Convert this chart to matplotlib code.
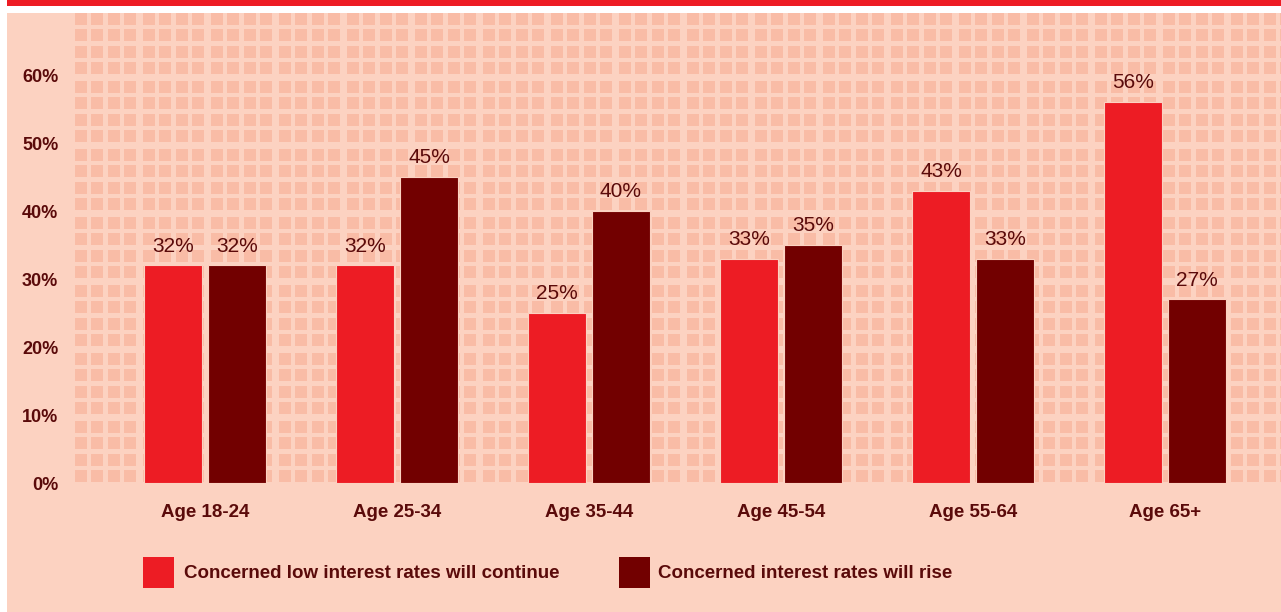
import numpy as np
import matplotlib
matplotlib.use("Agg")
import matplotlib.pyplot as plt
from matplotlib.patches import Rectangle
from matplotlib.collections import PatchCollection

groups = ["Age 18-24", "Age 25-34", "Age 35-44", "Age 45-54", "Age 55-64", "Age 65+"]
low_continue = [32, 32, 25, 33, 43, 56]
rates_rise = [32, 45, 40, 35, 33, 27]
series_names = ["Concerned low interest rates will continue", "Concerned interest rates will rise"]
y_ticks = [0, 10, 20, 30, 40, 50, 60]

RED = "#ED1C24"
DARK = "#720000"
PEACH = "#FCD2C1"
SQUARE = "#F9BCA6"
TEXT = "#5A0A0A"

plt.rcParams["font.family"] = ["Liberation Sans", "DejaVu Sans"]

W, H = 1281, 612
fig = plt.figure(figsize=(W / 100, H / 100), dpi=100)
fig.patch.set_facecolor("white")


def fig_rect(x0, y0, x1, y1, color):
    # pixel coords measured from the top-left corner
    fig.add_artist(Rectangle((x0 / W, 1 - y1 / H), (x1 - x0) / W, (y1 - y0) / H,
                             transform=fig.transFigure, facecolor=color,
                             edgecolor="none", zorder=-1))


fig_rect(7, 0, W, 6, RED)
fig_rect(7, 13, W, H, PEACH)

# plot area in pixels
left, top, bottom = 75, 13, 483
pos = [left / W, 1 - bottom / H, (W - left) / W, (bottom - top) / H]

# decorative square pattern behind the bars
ax_bg = fig.add_axes(pos, zorder=0)
ax_bg.set_xlim(0, W - left)
ax_bg.set_ylim(bottom - top, 0)
ax_bg.axis("off")
squares = []
offsets = [0, 16, 33, 49]
for ty in range(0, bottom - top, 68):
    for oy in offsets:
        for tx in range(0, W - left, 68):
            for ox in offsets:
                squares.append(Rectangle((tx + ox, ty + oy), 12, 12))
ax_bg.add_collection(PatchCollection(squares, facecolor=SQUARE, edgecolor="none"))

ax = fig.add_axes(pos, zorder=1)
ax.set_facecolor("none")

x = np.arange(len(groups))
width = 58 / 192
shift = 32 / 192
b1 = ax.bar(x - shift, low_continue, width, color=RED, edgecolor=PEACH, linewidth=0.8)
b2 = ax.bar(x + shift, rates_rise, width, color=DARK, edgecolor=PEACH, linewidth=0.8)

for bars, vals in [(b1, low_continue), (b2, rates_rise)]:
    for bar, v in zip(bars, vals):
        ax.annotate(f"{v}%", (bar.get_x() + bar.get_width() / 2, v),
                    xytext=(0, 10), textcoords="offset points",
                    ha="center", va="baseline", fontsize=15, color=TEXT)

ax.set_xlim((left - 205) / 192, (W - 205) / 192)
ax.set_ylim(0, (bottom - top) / 6.8)
ax.set_xticks(x)
ax.set_xticklabels(groups, fontsize=13.5, fontweight="bold", color=TEXT)
ax.set_yticks(y_ticks)
ax.set_yticklabels([f"{v}%" for v in y_ticks], fontsize=13, fontweight="bold", color=TEXT)
for lbl in ax.get_yticklabels():
    lbl.set_va("center_baseline")
ax.tick_params(axis="both", length=0)
ax.tick_params(axis="y", pad=12)
ax.tick_params(axis="x", pad=15)
for s in ax.spines.values():
    s.set_visible(False)

# legend
for (x0, tx), color, name in zip([(143, 184), (619, 658)], [RED, DARK], series_names):
    fig_rect(x0, 557, x0 + 31, 588, color)
    fig.text(tx / W, 1 - 573 / H, name, ha="left", va="center",
             fontsize=13.5, fontweight="bold", color=TEXT)

fig.savefig("out.png", dpi=100, facecolor=fig.get_facecolor())
